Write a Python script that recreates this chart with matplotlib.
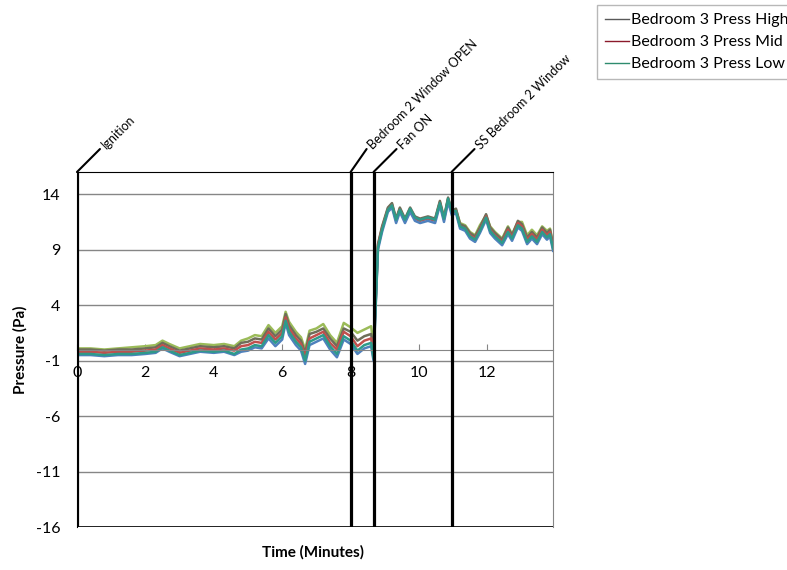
import matplotlib.pyplot as plt

plt.rcParams['font.family'] = ['Lato', 'DejaVu Sans']
plt.rcParams['axes.unicode_minus'] = False

time_min = [0, 0.4, 0.8, 1.2, 1.6, 2.0, 2.3, 2.5, 2.7, 3.0, 3.3, 3.6, 4.0, 4.3, 4.6,
            4.8, 5.0, 5.2, 5.4, 5.6, 5.8, 6.0, 6.1, 6.2, 6.4, 6.55, 6.67, 6.8, 7.0, 7.2,
            7.4, 7.6, 7.8, 8.0, 8.2, 8.4, 8.6, 8.67, 8.8, 8.92, 9.09, 9.21, 9.33, 9.44, 9.59,
            9.74, 9.88, 10.03, 10.26, 10.47, 10.61, 10.73, 10.85, 10.96, 11.08, 11.2, 11.35,
            11.49, 11.64, 11.78, 11.96, 12.08, 12.22, 12.43, 12.6, 12.72, 12.89, 13.01,
            13.16, 13.3, 13.45, 13.6, 13.74, 13.83, 13.92]

press_high = [0.0, 0.0, -0.1, 0.0, 0.0, 0.1, 0.2, 0.6, 0.3, -0.1, 0.1, 0.3, 0.2, 0.3, 0.1,
              0.6, 0.7, 1.0, 0.9, 1.9, 1.2, 1.8, 3.2, 2.2, 1.3, 0.8, -0.3, 1.4, 1.6, 1.9,
              1.0, 0.3, 1.9, 1.6, 0.8, 1.2, 1.4, -0.1, 9.5, 11.1, 12.8, 13.2, 11.8, 12.8, 11.8,
              12.8, 12.0, 11.8, 12.0, 11.8, 13.4, 11.9, 13.7, 12.5, 12.7, 11.3, 11.1, 10.5, 10.2, 11.0,
              12.2, 11.0, 10.5, 9.9, 11.0, 10.3, 11.6, 11.3, 10.1, 10.6, 10.1, 11.0, 10.5, 10.8, 9.4]
press_mid = [-0.2, -0.2, -0.3, -0.2, -0.2, -0.1, 0.0, 0.4, 0.1, -0.3, -0.1, 0.1, 0.0, 0.1, -0.1,
             0.3, 0.4, 0.7, 0.6, 1.6, 0.9, 1.5, 2.9, 1.9, 1.0, 0.5, -0.6, 1.0, 1.3, 1.6,
             0.6, 0.0, 1.6, 1.2, 0.3, 0.8, 1.0, -0.4, 9.3, 10.9, 12.6, 13.0, 11.6, 12.6, 11.6,
             12.6, 11.8, 11.6, 11.8, 11.6, 13.2, 11.7, 13.5, 12.3, 12.5, 11.1, 10.9, 10.3, 10.0, 10.8,
             12.0, 10.8, 10.3, 9.7, 10.8, 10.1, 11.4, 11.1, 9.9, 10.4, 9.9, 10.8, 10.3, 10.6, 9.2]
press_low = [-0.4, -0.4, -0.5, -0.4, -0.4, -0.3, -0.2, 0.2, -0.1, -0.5, -0.3, -0.1, -0.2, -0.1, -0.4,
             0.0, 0.1, 0.4, 0.3, 1.3, 0.6, 1.2, 2.6, 1.6, 0.7, 0.2, -1.0, 0.7, 1.0, 1.3,
             0.3, -0.4, 1.2, 0.8, -0.1, 0.4, 0.6, -0.8, 9.2, 10.8, 12.6, 13.0, 11.7, 12.6, 11.7,
             12.7, 11.9, 11.7, 11.9, 11.7, 13.2, 11.8, 13.6, 12.4, 12.5, 11.1, 10.9, 10.2, 9.9, 10.7,
             11.9, 10.7, 10.2, 9.6, 10.6, 10.0, 11.2, 10.9, 9.7, 10.2, 9.7, 10.6, 10.1, 10.4, 9.1]
# two more probes are drawn but not named in the legend
press_extra_a = [0.1, 0.1, 0.0, 0.1, 0.2, 0.3, 0.4, 0.8, 0.5, 0.1, 0.3, 0.5, 0.4, 0.5, 0.3,
                 0.8, 1.0, 1.3, 1.2, 2.2, 1.5, 2.1, 3.4, 2.5, 1.6, 1.1, 0.0, 1.7, 1.9, 2.3,
                 1.3, 0.6, 2.4, 2.0, 1.5, 1.8, 2.1, 0.3, 9.4, 11.0, 12.7, 13.1, 11.7, 12.7, 11.7,
                 12.7, 11.9, 11.7, 11.9, 11.7, 13.3, 11.8, 13.6, 12.4, 12.6, 11.4, 11.2, 10.6, 10.3, 11.2,
                 12.1, 11.1, 10.6, 10.0, 11.1, 10.4, 11.5, 11.5, 10.3, 10.8, 10.3, 11.1, 10.7, 10.9, 9.5]
press_extra_b = [-0.5, -0.5, -0.6, -0.5, -0.5, -0.4, -0.3, 0.1, -0.2, -0.6, -0.4, -0.2, -0.3, -0.2, -0.5,
                 -0.2, -0.1, 0.2, 0.1, 1.0, 0.3, 0.9, 2.4, 1.3, 0.4, -0.1, -1.3, 0.4, 0.7, 1.0,
                 0.0, -0.7, 0.9, 0.5, -0.4, 0.1, 0.3, -1.0, 9.0, 10.6, 12.4, 12.8, 11.4, 12.4, 11.4,
                 12.4, 11.6, 11.4, 11.6, 11.4, 13.0, 11.5, 13.3, 12.1, 12.3, 10.9, 10.7, 10.0, 9.7, 10.5,
                 11.7, 10.5, 10.0, 9.4, 10.4, 9.8, 11.0, 10.7, 9.5, 10.0, 9.5, 10.4, 9.9, 10.2, 8.9]

event_times = [0, 8.0, 8.67, 10.95]
event_labels = ['Ignition', 'Bedroom 2 Window OPEN', 'Fan ON', 'SS Bedroom 2 Window']
y_ticks = [-16, -11, -6, -1, 4, 9, 14]
x_ticks = [0, 2, 4, 6, 8, 10, 12]

fig = plt.figure(figsize=(7.87, 5.70), dpi=100)
ax = fig.add_axes([0.0978, 0.0754, 0.605, 0.6228])

ax.set_xlim(0, 13.92)
ax.set_ylim(-16, 16)
ax.set_yticks(y_ticks)
ax.set_xticks(x_ticks)
ax.yaxis.grid(True, color='#868686', linewidth=1)
ax.set_axisbelow(True)

ax.plot(time_min, press_extra_a, color='#9BBB59', linewidth=1.8)
ax.plot(time_min, press_high, color='#6E6E5A', linewidth=1.8)
ax.plot(time_min, press_mid, color='#C0504D', linewidth=1.8)
ax.plot(time_min, press_extra_b, color='#4F81BD', linewidth=1.8)
ax.plot(time_min, press_low, color='#2E9A8A', linewidth=1.8)

# legend shows only the three named probes
h1, = ax.plot([], [], color='#595959', linewidth=1, label='Bedroom 3 Press High')
h2, = ax.plot([], [], color='#8B1A2B', linewidth=1, label='Bedroom 3 Press Mid')
h3, = ax.plot([], [], color='#2E8B6E', linewidth=1, label='Bedroom 3 Press Low')
leg = fig.legend(handles=[h1, h2, h3], loc='upper left', bbox_to_anchor=(597 / 787, 1 - 5 / 570),
                 fontsize=11.5, frameon=True, fancybox=False, handlelength=1.5, handletextpad=0.1,
                 labelspacing=0.5, borderpad=0.5, borderaxespad=0)
leg.get_frame().set_edgecolor('#A6A6A6')
leg.get_frame().set_linewidth(1)

# event markers with slanted leaders and labels
for t, lab in zip(event_times, event_labels):
    ax.axvline(t, color='k', linewidth=2.3, zorder=5)
    dx = 16 if lab == 'Bedroom 2 Window OPEN' else 23
    ax.annotate('', xy=(t, 1), xycoords=('data', 'axes fraction'), xytext=(dx, 23),
                textcoords='offset pixels', annotation_clip=False,
                arrowprops=dict(arrowstyle='-', color='k', linewidth=1.5, shrinkA=0, shrinkB=0))
    ax.annotate(lab, xy=(t, 1), xycoords=('data', 'axes fraction'), xytext=(dx + 4, 25),
                textcoords='offset pixels', annotation_clip=False, rotation=45,
                rotation_mode='anchor', ha='left', va='center', fontsize=9)

ax.spines['bottom'].set_position(('data', 0))
ax.spines['bottom'].set_color('#868686')
ax.spines['top'].set_color('k')
ax.spines['right'].set_color('#868686')
ax.axhline(-16, color='k', linewidth=1.2, zorder=4)
ax.tick_params(axis='x', length=4, direction='in', color='#868686', labelsize=11.5, pad=12)
ax.tick_params(axis='y', length=0, labelsize=11.5, pad=12)

ax.set_ylabel('Pressure (Pa)', fontsize=11, fontweight='bold', labelpad=6)
fig.text(313 / 787, 1 - 552 / 570, 'Time (Minutes)', fontsize=11, fontweight='bold',
         ha='center', va='center')

plt.savefig('out.png', dpi=100)
